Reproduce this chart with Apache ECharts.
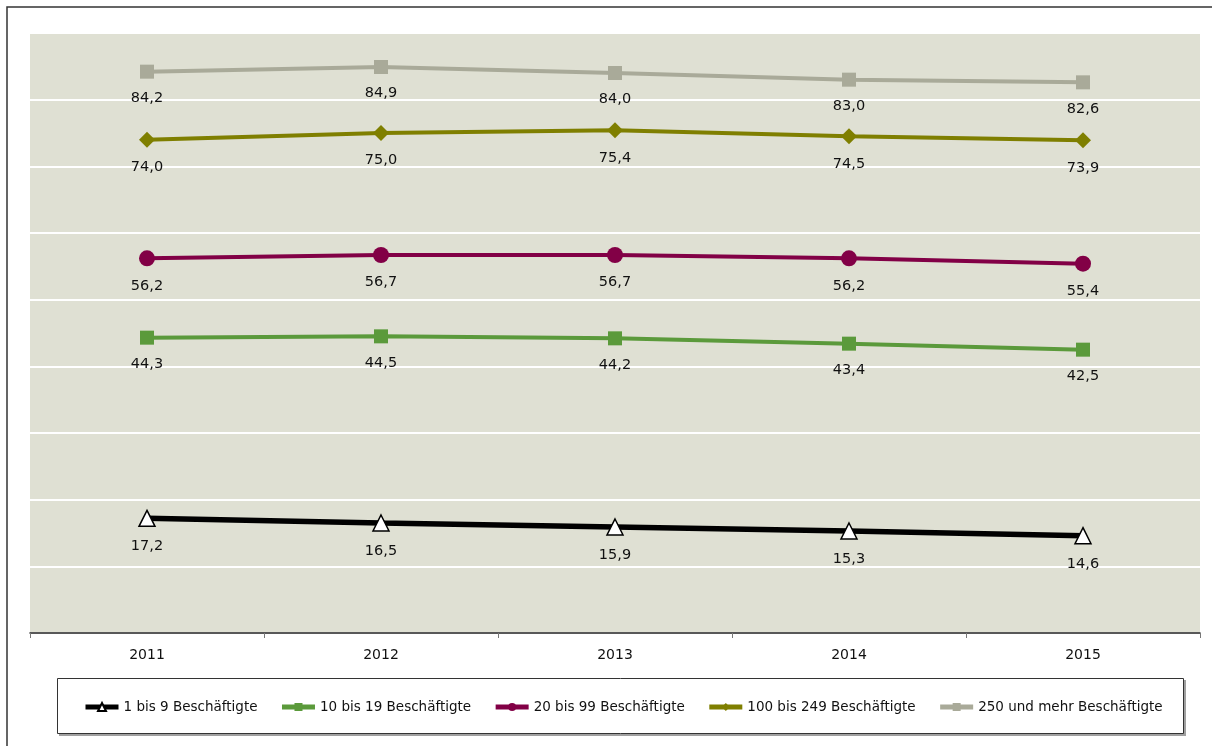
<!DOCTYPE html>
<html>
<head>
<meta charset="utf-8">
<script src="https://cdn.jsdelivr.net/npm/echarts@6/dist/echarts.min.js"></script>
<style>
  html, body { margin: 0; padding: 0; background: #fff; }
  #chart { width: 1212px; height: 746px; }
</style>
</head>
<body>
<div id="chart"></div>
<script>
// Anteil der Betriebe nach Betriebsgröße, 2011–2015 (in %)
const years = ['2011', '2012', '2013', '2014', '2015'];
const seriesNames = [
  '1 bis 9 Beschäftigte',
  '10 bis 19 Beschäftigte',
  '20 bis 99 Beschäftigte',
  '100 bis 249 Beschäftigte',
  '250 und mehr Beschäftigte'
];
const size1to9 = [17.2, 16.5, 15.9, 15.3, 14.6];
const size10to19 = [44.3, 44.5, 44.2, 43.4, 42.5];
const size20to99 = [56.2, 56.7, 56.7, 56.2, 55.4];
const size100to249 = [74.0, 75.0, 75.4, 74.5, 73.9];
const size250plus = [84.2, 84.9, 84.0, 83.0, 82.6];
const yTicks = { min: 0, max: 90, step: 10 };

const FONT = '"DejaVu Sans", Verdana, sans-serif';
const fmt = v => v.toFixed(1).replace('.', ',');

function lineSeries(name, data, color, width, symbol, size, itemStyle) {
  return {
    name: name,
    type: 'line',
    data: data,
    symbol: symbol,
    symbolSize: size,
    showAllSymbol: true,
    lineStyle: { color: color, width: width },
    itemStyle: Object.assign({ color: color, borderWidth: 0, opacity: 1 }, itemStyle || {}),
    label: {
      show: true,
      position: 'bottom',
      distance: 12,
      color: '#111',
      fontFamily: FONT,
      fontSize: 14.5,
      formatter: p => fmt(p.value)
    },
    emphasis: { disabled: true },
    animation: false,
    z: 3
  };
}

const chart = echarts.init(document.getElementById('chart'), null, { renderer: 'canvas' });
chart.setOption({
  backgroundColor: '#ffffff',
  animation: false,
  grid: {
    left: 30, right: 12, top: 33, bottom: 113,
    show: true, backgroundColor: '#dfe0d3', borderWidth: 0
  },
  xAxis: {
    type: 'category',
    data: years,
    boundaryGap: true,
    axisLine: { show: true, lineStyle: { color: '#222', width: 1.5 } },
    axisTick: { show: true, length: 5, lineStyle: { color: '#777' } },
    axisLabel: { color: '#111', fontFamily: FONT, fontSize: 14, margin: 15 }
  },
  yAxis: {
    type: 'value',
    min: yTicks.min, max: yTicks.max, interval: yTicks.step,
    axisLine: { show: false },
    axisTick: { show: false },
    axisLabel: { show: false },
    splitLine: { show: true, lineStyle: { color: '#ffffff', width: 2 } }
  },
  legend: {
    data: seriesNames,
    left: 78, top: 695,
    itemWidth: 33, itemHeight: 10, itemGap: 22,
    lineStyle: { width: 5 },
    textStyle: { color: '#111', fontFamily: FONT, fontSize: 13.5 },
    selectedMode: false
  },
  graphic: [
    // outer frame
    { type: 'rect', shape: { x: 7, y: 7, width: 1230, height: 760 },
      style: { fill: 'none', stroke: '#333', lineWidth: 1.5 }, silent: true, z: 100 },
    // legend box: grey drop shadow, then white box with dark border
    { type: 'rect', shape: { x: 59, y: 680, width: 1127, height: 56 },
      style: { fill: '#a0a0a0' }, silent: true, z: -2 },
    { type: 'rect', shape: { x: 57.5, y: 678.5, width: 1126, height: 55 },
      style: { fill: '#ffffff', stroke: '#333', lineWidth: 1 }, silent: true, z: -1 }
  ],
  series: [
    lineSeries(seriesNames[0], size1to9, '#000000', 5.5, 'triangle', 16,
      { color: '#ffffff', borderColor: '#000000', borderWidth: 1.5 }),
    lineSeries(seriesNames[1], size10to19, '#5b9a3b', 4, 'rect', 14),
    lineSeries(seriesNames[2], size20to99, '#820046', 4, 'circle', 16),
    lineSeries(seriesNames[3], size100to249, '#7f7f00', 4, 'diamond', 16),
    lineSeries(seriesNames[4], size250plus, '#a9aa99', 4, 'rect', 14)
  ]
});
</script>
</body>
</html>
